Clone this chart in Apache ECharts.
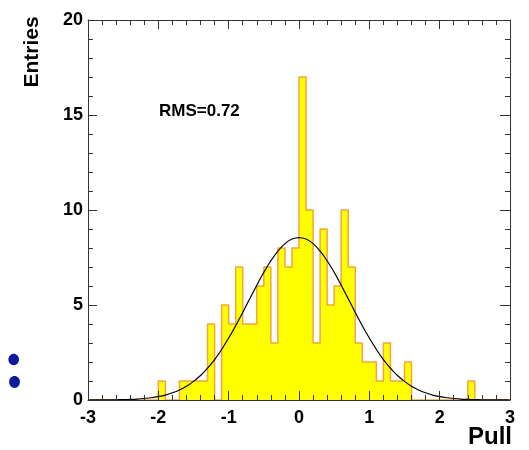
<!DOCTYPE html>
<html>
<head>
<meta charset="utf-8">
<script src="https://cdn.jsdelivr.net/npm/echarts@6/dist/echarts.min.js"></script>
<style>
  html, body { margin: 0; padding: 0; background: #fff; }
  #main { width: 529px; height: 450px; }
</style>
</head>
<body>
<div id="main"></div>
<script>
// bin counts, 60 bins of width 0.1 from -3 to 3
var xMin = -3, xMax = 3, binWidth = 0.1;
var counts = [
  0, 0, 0, 0, 0, 0, 0, 0, 0, 0,     // -3.0 .. -2.1
  1, 0, 0, 1, 1, 1, 1, 4, 0, 5,     // -2.0 .. -1.1
  4, 7, 4, 4, 6, 7, 3, 8, 7, 8,     // -1.0 .. -0.1
  17, 10, 3, 9, 5, 6, 10, 7, 3, 2,  //  0.0 .. 0.9
  2, 1, 3, 1, 1, 2, 0, 0, 0, 0,     //  1.0 .. 1.9
  0, 0, 0, 0, 1, 0, 0, 0, 0, 0      //  2.0 .. 2.9
];
// fitted gaussian, every 0.1 from 0 to 3 (symmetric about 0)
var gaussHalfY = [8.55, 8.47, 8.23, 7.84, 7.33, 6.72, 6.04, 5.33, 4.61, 3.91,
                  3.26, 2.66, 2.13, 1.68, 1.29, 0.98, 0.72, 0.53, 0.38, 0.26,
                  0.18, 0.12, 0.08, 0.05, 0.033, 0.021, 0.013, 0.008, 0.004, 0.003, 0.001];
var gaussStep = 0.1;
var rmsText = 'RMS=0.72';
var yMin = 0, yMax = 20;

var histData = [];
for (var i = 0; i < counts.length; i++) {
    histData.push([+(xMin + i * binWidth).toFixed(2), counts[i]]);
}
histData.push([xMax, 0]);

var gaussData = [];
for (var j = gaussHalfY.length - 1; j > 0; j--) {
    gaussData.push([+(-j * gaussStep).toFixed(2), gaussHalfY[j]]);
}
for (var k = 0; k < gaussHalfY.length; k++) {
    gaussData.push([+(k * gaussStep).toFixed(2), gaussHalfY[k]]);
}

var font = "'Liberation Sans', Arial, Helvetica, sans-serif";
var frameColor = '#333';

function frameAxis(pos, min, max, interval, showLabel, majorLen, minorLen) {
    return {
        type: 'value',
        position: pos,
        min: min,
        max: max,
        interval: interval,
        z: 5,
        axisLine: { show: true, onZero: false, lineStyle: { color: frameColor, width: 1 } },
        axisTick: { show: true, inside: true, length: majorLen, lineStyle: { color: frameColor, width: 1 } },
        minorTick: { show: true, splitNumber: 5, length: minorLen, lineStyle: { color: frameColor, width: 1 } },
        splitLine: { show: false },
        minorSplitLine: { show: false },
        axisLabel: {
            show: showLabel,
            showMinLabel: true,
            showMaxLabel: true,
            color: '#000',
            fontFamily: font,
            fontWeight: 'bold',
            fontSize: 18
        }
    };
}

var xBottom = frameAxis('bottom', xMin, xMax, 1, true, 9, 5);
xBottom.axisLabel.margin = 9;
var xTop = frameAxis('top', xMin, xMax, 1, false, 9, 5);
var yLeft = frameAxis('left', yMin, yMax, 5, true, 9, 5);
yLeft.axisLabel.margin = 5;
var yRight = frameAxis('right', yMin, yMax, 5, false, 10, 5);

var option = {
    backgroundColor: '#fff',
    animation: false,
    grid: { left: 88, top: 20, width: 422, height: 380 },
    xAxis: [xBottom, xTop],
    yAxis: [yLeft, yRight],
    series: [
        {
            name: 'hist',
            type: 'line',
            step: 'end',
            xAxisIndex: 0,
            yAxisIndex: 0,
            data: histData,
            showSymbol: false,
            z: 1,
            lineStyle: { color: '#f4a53a', width: 1.5 },
            areaStyle: { color: '#ffff00', opacity: 1 }
        },
        {
            name: 'fit',
            type: 'line',
            xAxisIndex: 0,
            yAxisIndex: 0,
            data: gaussData,
            smooth: 0.3,
            showSymbol: false,
            z: 3,
            lineStyle: { color: '#000', width: 1.2 }
        }
    ],
    graphic: [
        {
            type: 'text',
            x: 32, y: 52,
            rotation: Math.PI / 2,
            style: {
                text: 'Entries',
                font: 'bold 21px ' + font,
                fill: '#000',
                align: 'center',
                verticalAlign: 'middle'
            }
        },
        {
            type: 'text',
            x: 512, y: 437,
            style: {
                text: 'Pull',
                font: 'bold 24px ' + font,
                fill: '#000',
                align: 'right',
                verticalAlign: 'middle'
            }
        },
        {
            type: 'text',
            x: 159, y: 111,
            style: {
                text: rmsText,
                font: 'bold 17px ' + font,
                fill: '#000',
                align: 'left',
                verticalAlign: 'middle'
            }
        },
        {
            type: 'ellipse',
            shape: { cx: 13.7, cy: 359.5, rx: 5.3, ry: 5.7 },
            style: { fill: '#0d1a9c' }
        },
        {
            type: 'ellipse',
            shape: { cx: 14.5, cy: 382, rx: 5.4, ry: 5.9 },
            style: { fill: '#0d1a9c' }
        }
    ]
};

var chart = echarts.init(document.getElementById('main'));
chart.setOption(option);
</script>
</body>
</html>
